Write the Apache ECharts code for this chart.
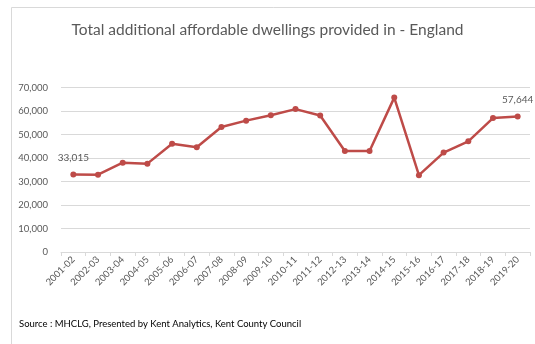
<!DOCTYPE html>
<html>
<head>
<meta charset="utf-8">
<script src="https://cdn.jsdelivr.net/npm/echarts@6/dist/echarts.min.js"></script>
<style>
  html, body { margin: 0; padding: 0; background: #ffffff; }
  #chart { width: 535px; height: 344px; }
</style>
</head>
<body>
<div id="chart"></div>
<script>
// Financial years
const years = ['2001-02','2002-03','2003-04','2004-05','2005-06','2006-07','2007-08','2008-09','2009-10','2010-11',
               '2011-12','2012-13','2013-14','2014-15','2015-16','2016-17','2017-18','2018-19','2019-20'];
// Additional affordable dwellings delivered per year
const dwellings = [33015, 32900, 38000, 37600, 46100, 44600, 53200, 55900, 58200, 60800,
                   58100, 43000, 43000, 65700, 32700, 42300, 47100, 57000, 57644];
// Y-axis settings
const yMax = 70000;
const yStep = 10000;

const chart = echarts.init(document.getElementById('chart'), null, { renderer: 'canvas' });
const labelled = new Set([0, dwellings.length - 1]);

chart.setOption({
  animation: false,
  backgroundColor: '#ffffff',
  graphic: [
    { type: 'rect', shape: { x: 11.5, y: 7.5, width: 540, height: 350 },
      style: { fill: 'none', stroke: '#d9d9d9', lineWidth: 1 } },
    { type: 'text', left: 19, top: 319,
      style: { text: 'Source : MHCLG, Presented by Kent Analytics, Kent County Council',
               fill: '#000000', font: '9.5px Lato' } }
  ],
  title: {
    text: 'Total additional affordable dwellings provided in - England',
    left: 'center', top: 17,
    textStyle: { fontFamily: 'Lato', fontSize: 15.5, fontWeight: 'normal', color: '#595959' }
  },
  grid: { left: 61, right: 5, top: 87.5, bottom: 92 },
  xAxis: {
    type: 'category',
    data: years,
    boundaryGap: true,
    axisLine: { lineStyle: { color: '#d9d9d9', width: 1 } },
    axisTick: { show: true, length: 4, lineStyle: { color: '#d9d9d9' } },
    axisLabel: { rotate: 45, interval: 0, color: '#595959', fontFamily: 'Lato', fontSize: 9.5, margin: 6 }
  },
  yAxis: {
    type: 'value',
    min: 0, max: yMax, interval: yStep,
    axisLine: { show: false },
    axisTick: { show: false },
    splitLine: { lineStyle: { color: '#d9d9d9', width: 1 } },
    axisLabel: {
      color: '#595959', fontFamily: 'Lato', fontSize: 9.5, margin: 13,
      formatter: v => v.toLocaleString('en-GB')
    }
  },
  series: [{
    type: 'line',
    data: dwellings,
    symbol: 'circle',
    symbolSize: 6,
    lineStyle: { color: '#be4b48', width: 2.5 },
    itemStyle: { color: '#be4b48' },
    label: {
      show: true, position: 'top', distance: 9,
      color: '#595959', fontFamily: 'Lato', fontSize: 10,
      formatter: p => labelled.has(p.dataIndex) ? p.value.toLocaleString('en-GB') : ''
    }
  }]
});
</script>
</body>
</html>
